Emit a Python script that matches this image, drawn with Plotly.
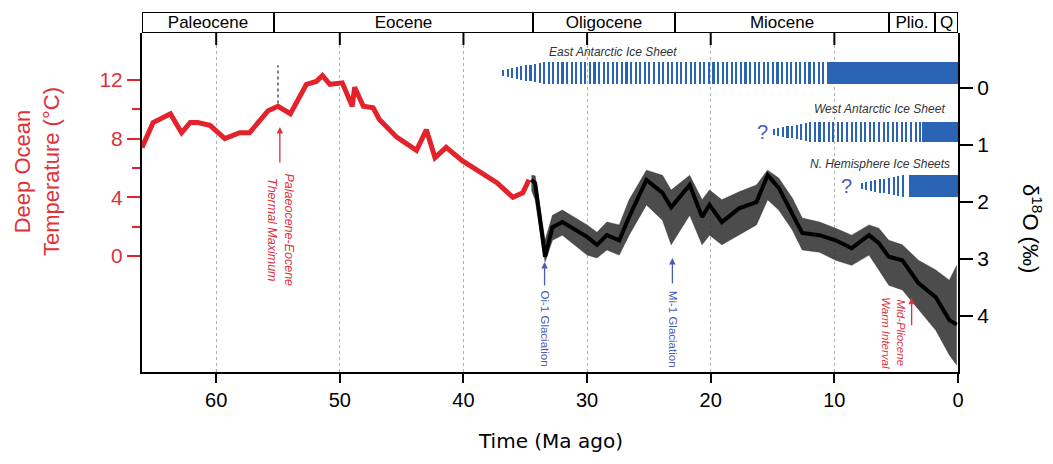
import numpy as np
import plotly.graph_objects as go

# ---------------- data ----------------
epoch_names = ["Paleocene", "Eocene", "Oligocene", "Miocene", "Plio.", "Q"]
epoch_old = [66.0, 55.3, 34.4, 22.9, 5.6, 1.9]
epoch_young = [55.3, 34.4, 22.9, 5.6, 1.9, 0.0]

# Deep ocean temperature (red curve), Paleocene-Eocene
temp_age = [66.0, 65.1, 63.7, 62.8, 62.1, 61.5, 60.5, 59.3, 58.1, 57.3, 55.8, 55.0,
            54.0, 52.7, 51.9, 51.4, 50.8, 49.8, 49.0, 48.8, 48.1, 47.3, 46.8, 45.4,
            43.8, 43.0, 42.3, 41.4, 40.1, 38.7, 37.3, 36.0, 35.2, 34.7]
temp_c = [7.4, 9.1, 9.7, 8.4, 9.1, 9.1, 8.9, 8.0, 8.4, 8.4, 9.9, 10.2,
          9.7, 11.7, 11.9, 12.3, 11.7, 11.8, 10.2, 11.5, 10.2, 10.1, 9.3, 8.1,
          7.2, 8.6, 6.7, 7.4, 6.5, 5.7, 5.0, 4.0, 4.3, 5.2]

# PETM spike in the scatter
petm_age = [55.0, 55.0]
petm_c = [10.4, 13.0]

# Benthic d18O (black curve) and the spread of the scatter cloud
d18o_age = [34.5, 34.2, 33.4, 32.8, 32.0, 30.0, 29.2, 28.4, 27.4, 26.6, 25.2, 23.9,
            23.2, 21.7, 20.7, 20.1, 19.1, 17.7, 16.3, 15.4, 14.5, 13.4, 12.6, 11.2,
            9.9, 8.6, 7.2, 6.4, 5.6, 4.5, 3.2, 1.8, 0.7, 0.1]
d18o_mid = [1.61, 1.67, 2.96, 2.44, 2.35, 2.61, 2.75, 2.58, 2.67, 2.26, 1.61, 1.84,
            2.09, 1.70, 2.26, 2.05, 2.35, 2.11, 2.00, 1.53, 1.75, 2.19, 2.54, 2.58,
            2.67, 2.81, 2.58, 2.72, 2.96, 3.02, 3.42, 3.67, 4.07, 4.15]
d18o_light = [1.53, 1.54, 2.67, 2.23, 2.14, 2.40, 2.53, 2.35, 2.40, 1.96, 1.44, 1.53,
              1.79, 1.53, 1.96, 1.79, 1.96, 1.82, 1.70, 1.44, 1.58, 1.93, 2.28, 2.35,
              2.46, 2.58, 2.40, 2.46, 2.67, 2.75, 3.02, 3.19, 3.37, 3.11]
d18o_heavy = [1.79, 1.96, 3.05, 2.67, 2.58, 2.93, 2.98, 2.84, 2.93, 2.58, 2.05, 2.32,
              2.75, 2.23, 2.75, 2.58, 2.75, 2.58, 2.40, 1.96, 2.14, 2.49, 2.84, 2.88,
              3.02, 3.11, 2.93, 3.19, 3.46, 3.54, 3.89, 4.25, 4.68, 4.86]

# Ice sheets: first (ephemeral) ice, full size, permanent ice (Ma)
ice_names = ["East Antarctic Ice Sheet", "West Antarctic Ice Sheet", "N. Hemisphere Ice Sheets"]
ice_onset = [36.8, 14.9, 7.8]
ice_full = [33.5, 11.8, 4.4]
ice_solid = [10.4, 2.9, 4.0]
ice_query = [None, 15.8, 9.0]

ticks_x = [60, 50, 40, 30, 20, 10, 0]

# ---------------- style ----------------
RED = "#e3222b"
LRED = "#e0313a"
BLUE = "#2c64b5"
TBLUE = "#4a5cb2"
FONT = "Liberation Sans"
D = 339 / 360.0          # main plot domain top (epoch bar above)
PW = 816.0               # plot width px
PL, PB = 142.0, 372.0    # plot left / bottom on the page

def px(xp):
    return (xp - PL) / PW

def py(yp):
    return (PB - yp) / 360.0

fig = go.Figure()

# scatter cloud (d18O)
fig.add_trace(go.Scatter(x=d18o_age, y=d18o_light, yaxis="y2", mode="lines",
                         line=dict(width=0.5, color="rgba(50,50,50,0.85)"), hoverinfo="skip"))
fig.add_trace(go.Scatter(x=d18o_age, y=d18o_heavy, yaxis="y2", mode="lines", fill="tonexty",
                         fillcolor="rgba(45,45,45,0.85)",
                         line=dict(width=0.5, color="rgba(50,50,50,0.85)"), hoverinfo="skip"))
fig.add_trace(go.Scatter(x=d18o_age, y=d18o_mid, yaxis="y2", mode="lines",
                         line=dict(width=4, color="black")))

# early scatter spike + temperature curve
fig.add_trace(go.Scatter(x=petm_age, y=petm_c, yaxis="y", mode="lines",
                         line=dict(width=1.5, color="#555", dash="dot")))
fig.add_trace(go.Scatter(x=temp_age, y=temp_c, yaxis="y", mode="lines",
                         line=dict(width=5, color=RED)))

# ice sheet bars (y3 in pixel units from the plot bottom)
ice_center = [299, 240, 186]
ice_h = [22, 20, 22]
spacing, sw = 0.37, 0.17
for i in range(3):
    xs = np.arange(ice_onset[i], ice_solid[i] + 0.1, -spacing)
    frac = np.clip((ice_onset[i] - xs) / (ice_onset[i] - ice_full[i]), 0, 1)
    h = ice_h[i] * (0.3 + 0.7 * frac)
    fig.add_trace(go.Bar(x=xs, y=h, base=ice_center[i] - h / 2, width=sw, yaxis="y3",
                         marker=dict(color=BLUE, line=dict(width=0)), hoverinfo="skip"))
    fig.add_trace(go.Bar(x=[ice_solid[i] / 2], y=[ice_h[i]], base=[ice_center[i] - ice_h[i] / 2],
                         width=[ice_solid[i]], yaxis="y3",
                         marker=dict(color=BLUE, line=dict(width=0)), hoverinfo="skip"))

# inward tick marks along the top edge of the plot
fig.add_trace(go.Scatter(x=ticks_x[:-1], y=[334] * (len(ticks_x) - 1), yaxis="y3",
                         mode="markers", cliponaxis=False, hoverinfo="skip",
                         marker=dict(symbol="line-ns", size=10,
                                     line=dict(width=2, color="black"))))

# epoch bar
fig.add_trace(go.Bar(y=[0.5] * len(epoch_names),
                     x=list(np.subtract(epoch_old, epoch_young)), base=epoch_young,
                     orientation="h", width=1, yaxis="y4", cliponaxis=False,
                     marker=dict(color="white", line=dict(color="black", width=2)),
                     text=epoch_names, textposition="inside", insidetextanchor="middle",
                     textangle=0, constraintext="none",
                     textfont=dict(family=FONT, size=17, color="black"), hoverinfo="skip"))

ann = []

def label(text, x, y, xref, yref, size, color, angle=0, xanchor="center", family=FONT):
    return dict(text=text, x=x, y=y, xref=xref, yref=yref, textangle=angle,
                xanchor=xanchor, yanchor="middle", showarrow=False,
                font=dict(family=family, size=size, color=color))

# axis titles
ann.append(label("Deep Ocean<br>Temperature (°C)", px(37), py(172), "paper", "paper",
                 22, LRED, angle=-90))
ann.append(label("δ<sup>18</sup>O (‰)", px(1032), py(229), "paper", "paper",
                 22, "black", angle=90))
ann.append(label("Time (Ma ago)", px(550), py(441), "paper", "paper", 20, "black",
                 family="DejaVu Sans"))

# ice labels
ann.append(label("<i>" + ice_names[0] + "</i>", 27.9, 320, "x", "y3", 12, "#333"))
ann.append(label("<i>" + ice_names[1] + "</i>", 0.9, 263, "x", "y3", 12, "#333", xanchor="right"))
ann.append(label("<i>" + ice_names[2] + "</i>", 0.45, 208, "x", "y3", 12, "#333", xanchor="right"))
for i in range(3):
    if ice_query[i] is not None:
        ann.append(label("?", ice_query[i], ice_center[i], "x", "y3", 20, TBLUE))

# event arrows
def arrow(x, y, yref, ay, color):
    return dict(x=x, y=y, xref="x", yref=yref, ax=0, ay=ay, text=" ", showarrow=True,
                arrowhead=2, arrowsize=1, arrowwidth=1.3, arrowcolor=color,
                font=dict(size=2))

ann.append(arrow(54.85, 8.79, "y", 38, LRED))
ann.append(label("<i>Palaeocene-Eocene<br>Thermal Maximum</i>", 54.75, 1.8, "x", "y",
                 12.5, LRED, angle=90))
ann.append(arrow(33.44, 3.05, "y2", 26, TBLUE))
ann.append(label("Oi-1 Glaciation", 33.44, 4.21, "x", "y2", 11.5, TBLUE, angle=90))
ann.append(arrow(23.1, 2.98, "y2", 28, TBLUE))
ann.append(label("Mi-1 Glaciation", 23.1, 4.23, "x", "y2", 11.5, TBLUE, angle=90))
ann.append(arrow(3.75, 3.68, "y2", 30, LRED))
ann.append(label("<i>Mid-Pliocene<br>Warm Interval</i>", 5.17, 4.3, "x", "y2", 11.5, LRED,
                 angle=90))

# the page body adds an 8px offset, so the figure is shrunk by it
fig.update_layout(
    width=1045, height=456,
    margin=dict(l=134, r=95, t=4, b=92),
    paper_bgcolor="white", plot_bgcolor="white",
    showlegend=False, barmode="overlay", bargap=0,
    font=dict(family=FONT, color="black"),
    xaxis=dict(range=[66, 0], tickvals=ticks_x, ticks="outside", ticklen=9, tickwidth=2,
               tickcolor="black", showline=True, linecolor="black", linewidth=2,
               showgrid=True, gridcolor="#a9b0bf", griddash="dot", gridwidth=1,
               zeroline=False, anchor="y", tickfont=dict(family=FONT, size=20)),
    yaxis=dict(domain=[0, D], range=[-7.91, 15.20], tickvals=[0, 4, 8, 12],
               ticks="outside", ticklen=13, tickwidth=2, tickcolor=RED,
               tickfont=dict(family=FONT, size=21, color=LRED),
               showline=True, linecolor="black", linewidth=2, showgrid=False,
               zeroline=False,
               minor=dict(tickmode="array", tickvals=[2, 6, 10], ticks="outside",
                          ticklen=8, tickwidth=2, tickcolor=RED, showgrid=False)),
    yaxis2=dict(overlaying="y", side="right", anchor="x", range=[4.98, -0.965],
                tickvals=[0, 1, 2, 3, 4], ticks="outside", ticklen=13, tickwidth=2,
                tickcolor="black", showline=True, linecolor="black", linewidth=2,
                showgrid=False, zeroline=False, tickfont=dict(family=FONT, size=21)),
    yaxis3=dict(overlaying="y", range=[0, 339], visible=False, fixedrange=True),
    yaxis4=dict(domain=[D, 1], range=[0, 1], visible=False, anchor="x"),
    annotations=ann,
)

fig.write_html("out.html")
